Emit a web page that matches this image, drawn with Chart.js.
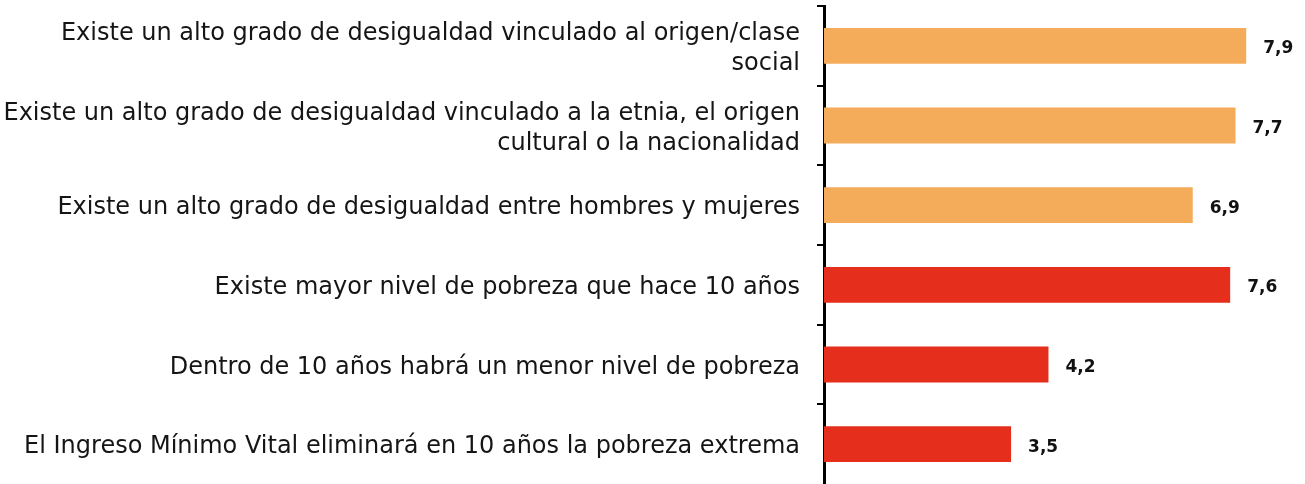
<!DOCTYPE html>
<html><head><meta charset="utf-8">
<script src="https://cdn.jsdelivr.net/npm/chart.js@4"></script>
<style>html,body{margin:0;padding:0;background:#fff}#wrap{width:1305px;height:484px}</style>
</head><body><div id="wrap"><canvas id="c" width="1305" height="484"></canvas></div>
<script>
const categories = [
  ["Existe un alto grado de desigualdad vinculado al origen/clase", "social"],
  ["Existe un alto grado de desigualdad vinculado a la etnia, el origen", "cultural o la nacionalidad"],
  "Existe un alto grado de desigualdad entre hombres y mujeres",
  "Existe mayor nivel de pobreza que hace 10 años",
  "Dentro de 10 años habrá un menor nivel de pobreza",
  "El Ingreso Mínimo Vital eliminará en 10 años la pobreza extrema"
];
const values = [7.9, 7.7, 6.9, 7.6, 4.2, 3.5];
const valueLabels = ["7,9", "7,7", "6,9", "7,6", "4,2", "3,5"];
const barColors = ["#F5AC5A", "#F5AC5A", "#F5AC5A", "#E52E1C", "#E52E1C", "#E52E1C"];
const xMax = 9;

const FONT = "'DejaVu Sans', sans-serif";
const valuePlugin = {
  id: 'valueLabels',
  afterDatasetsDraw(chart) {
    const ctx = chart.ctx;
    const meta = chart.getDatasetMeta(0);
    ctx.save();
    ctx.font = "bold 17px " + FONT;
    ctx.fillStyle = "#111";
    ctx.textBaseline = "middle";
    ctx.textAlign = "left";
    meta.data.forEach((bar, i) => {
      ctx.fillText(valueLabels[i], bar.x + 17, bar.y + 3);
    });
    ctx.restore();
  }
};

new Chart(document.getElementById('c'), {
  type: 'bar',
  data: { labels: categories, datasets: [{ data: values, backgroundColor: barColors, barPercentage: 0.45, categoryPercentage: 1 }] },
  options: {
    indexAxis: 'y',
    responsive: false,
    animation: false,
    layout: { padding: { top: 6, bottom: 0, left: 0, right: 0 } },
    plugins: { legend: { display: false }, tooltip: { enabled: false } },
    scales: {
      x: { min: 0, max: xMax, display: false },
      y: {
        afterFit(s) { s.width = 824; s.paddingTop = 0; s.paddingBottom = 0; },
        border: { display: true, color: '#000', width: 3 },
        grid: { offset: true, drawOnChartArea: false, drawTicks: true, tickLength: 7,
                color: (c) => (c.tick ? '#000' : 'rgba(0,0,0,0)'), lineWidth: 2 },
        ticks: { color: '#151515', padding: 17, labelOffset: 3, font: { family: FONT, size: 24, lineHeight: 1.25 }, autoSkip: false }
      }
    }
  },
  plugins: [valuePlugin]
});
</script></body></html>
